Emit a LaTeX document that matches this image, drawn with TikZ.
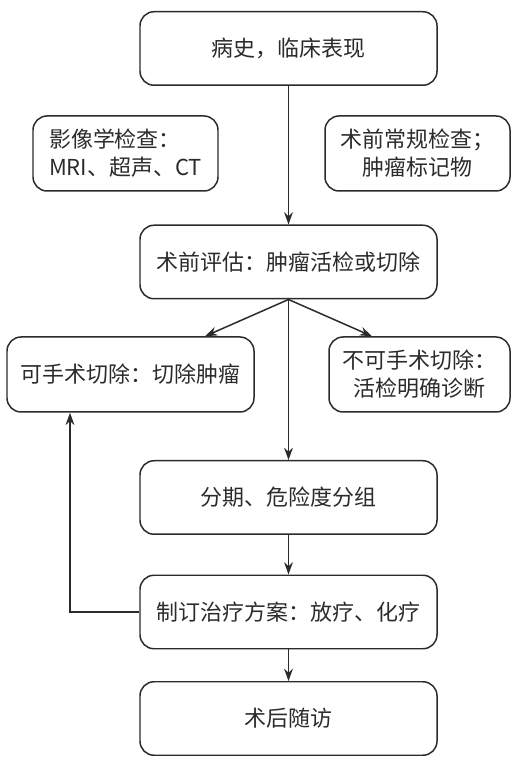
\documentclass[tikz,border=0pt]{standalone}
\usepackage{fontspec}
\setmainfont{Noto Sans CJK SC}
\usepackage{tikz}
\usepackage{xcolor}
\usetikzlibrary{arrows.meta}

\definecolor{inkgray}{HTML}{2B2B2B}

\begin{document}
\begin{tikzpicture}[
    stepbox/.style={rectangle, rounded corners=8pt, draw=inkgray, line width=0.85pt,
        text=inkgray, minimum width=5.94cm, minimum height=1.47cm,
        font=\fontsize{12.5}{16}\selectfont},
    sidebox/.style={stepbox, minimum width=3.7cm, minimum height=1.5cm},
    flow/.style={-{Stealth[length=7pt, width=5pt]}, draw=inkgray, line width=0.85pt}
]
    \useasboundingbox (0,0) rectangle (10.52,15.3);

    % Main column
    \node[stepbox] (history) at (5.77,14.33) {病史，临床表现};
    \node[stepbox] (assess) at (5.77,10.06) {术前评估：肿瘤活检或切除};
    \node[stepbox] (staging) at (5.77,5.35) {分期、危险度分组};
    \node[stepbox] (plan) at (5.77,3.06) {制订治疗方案：放疗、化疗};
    \node[stepbox] (follow) at (5.77,0.93) {术后随访};

    % Examinations
    \node[sidebox, align=left] (imaging) at (2.51,12.23) {影像学检查：\\MRI、超声、CT};
    \node[sidebox, align=center] (routine) at (8.35,12.23) {术前常规检查；\\肿瘤标记物};

    % Surgical decision
    \node[sidebox, minimum width=4.94cm] (resect) at (2.61,7.81) {可手术切除：切除肿瘤};
    \node[sidebox, minimum width=3.62cm, align=center] (biopsy) at (8.39,7.81) {不可手术切除：\\活检明确诊断};

    % Edges
    \draw[flow] (history) -- (assess);
    \draw[flow] (assess.south) -- (resect.north -| 4.1,0);
    \draw[flow] (assess.south) -- (biopsy.north -| 7.44,0);
    \draw[flow] (assess) -- (staging);
    \draw[flow] (staging) -- (plan);
    \draw[flow] (plan) -- (follow);
    \draw[flow] (plan.west) -| (resect.south -| 1.4,0);
\end{tikzpicture}
\end{document}
